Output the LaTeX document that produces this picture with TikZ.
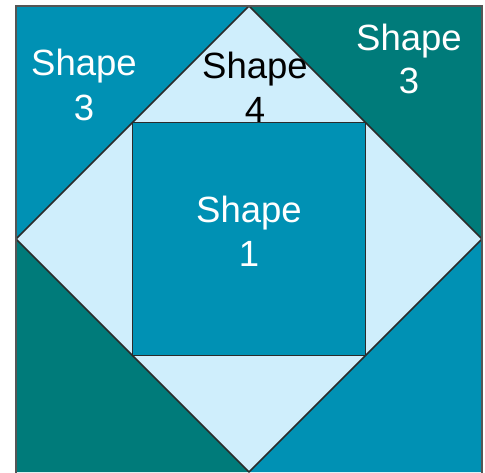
\documentclass[tikz,border=0pt]{standalone}
\usepackage{fontspec}
\setmainfont{Liberation Sans}
\definecolor{qblue}{HTML}{0091B4}
\definecolor{qteal}{HTML}{007B7A}
\definecolor{qlight}{HTML}{CFEEFC}
\definecolor{qline}{HTML}{2B2B2B}
\begin{document}
\begin{tikzpicture}[x=1pt,y=-1pt,
  piece/.style={draw=qline,line width=1.5pt,line join=round},
  lbl/.style={anchor=base,inner sep=0pt,font=\fontsize{36.5}{42}\selectfont}]
\useasboundingbox (0,0) rectangle (485,472);
% corner triangles
\fill[qblue] (16,6) -- (249,6) -- (16,239) -- cycle;
\fill[qteal] (249,6) -- (482,6) -- (482,239) -- cycle;
\fill[qteal] (16,239) -- (16,472) -- (249,472) -- cycle;
\fill[qblue] (482,239) -- (482,472) -- (249,472) -- cycle;
% diamond
\draw[piece,fill=qlight] (249,6) -- (482,239) -- (249,472) -- (16,239) -- cycle;
% inner square
\draw[piece,fill=qblue] (132.5,122.5) rectangle (365.5,355.5);
% outer border
\draw[draw=qline!80,line width=1.3pt] (16,474) -- (16,6) -- (482,6) -- (482,474);
% labels
\node[lbl,text=white] (s3l1) at (84,75) {Shape};
\node[lbl,text=white] (s3l2) at (84,120) {3};
\node[lbl,text=white] (s3r1) at (409,50) {Shape};
\node[lbl,text=white] (s3r2) at (409,93) {3};
\node[lbl,text=black] (s41) at (255,78) {Shape};
\node[lbl,text=black] (s42) at (255,122) {4};
\node[lbl,text=white] (s11) at (249,222) {Shape};
\node[lbl,text=white] (s12) at (249,266) {1};
\end{tikzpicture}
\end{document}
